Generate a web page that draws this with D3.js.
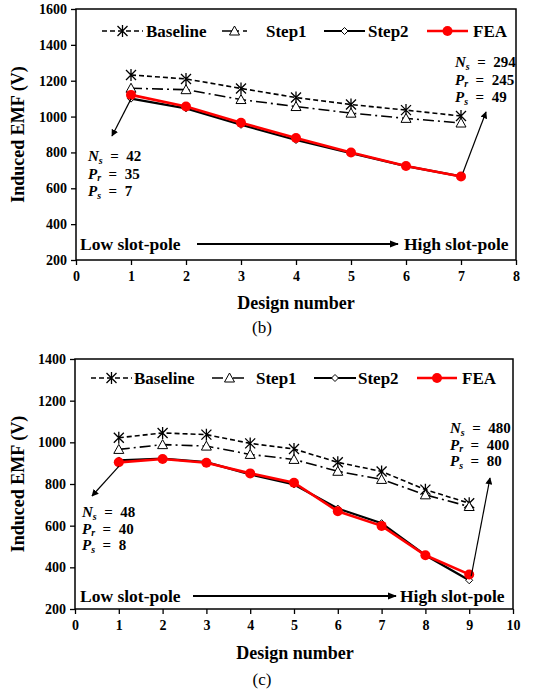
<!DOCTYPE html>
<html><head><meta charset="utf-8">
<script src="https://cdn.jsdelivr.net/npm/d3@7"></script>
<style>
body{margin:0;background:#fff;}
svg text{font-family:"Liberation Serif","Times New Roman",serif;}
</style></head>
<body><svg id="chart" width="538" height="695"></svg>
<script>
// ---- Data ----
const seriesNames = ["Baseline", "Step1", "Step2", "FEA"];

const designsB = [1, 2, 3, 4, 5, 6, 7];
const baselineB = [1232, 1210, 1157, 1106, 1067, 1036, 1003];
const step1B = [1158, 1150, 1095, 1056, 1019, 990, 964];
const step2B = [1100, 1046, 954, 869, 796, 724, 666];
const feaB = [1121, 1056, 966, 880, 800, 724, 666];
const yTicksB = [200, 400, 600, 800, 1000, 1200, 1400, 1600];
const xTicksB = [0, 1, 2, 3, 4, 5, 6, 7, 8];

const designsC = [1, 2, 3, 4, 5, 6, 7, 8, 9];
const baselineC = [1022, 1045, 1037, 995, 968, 904, 860, 773, 708];
const step1C = [966, 989, 982, 942, 918, 861, 822, 748, 692];
const step2C = [913, 922, 905, 846, 798, 682, 612, 458, 338];
const feaC = [904, 920, 902, 851, 806, 669, 599, 458, 366];
const yTicksC = [200, 400, 600, 800, 1000, 1200, 1400];
const xTicksC = [0, 1, 2, 3, 4, 5, 6, 7, 8, 9, 10];

const annoB = {left: ["42", "35", "7"], right: ["294", "245", "49"]};
const annoC = {left: ["48", "40", "8"], right: ["480", "400", "80"]};

// ---- Drawing ----
const svg = d3.select("#chart");
const defs = svg.append("defs");
defs.append("marker").attr("id", "ah").attr("viewBox", "0 0 10 10").attr("refX", 9).attr("refY", 5)
  .attr("markerWidth", 7).attr("markerHeight", 7).attr("orient", "auto-start-reverse")
  .attr("markerUnits", "userSpaceOnUse")
  .append("path").attr("d", "M0,0 L10,5 L0,10 z").attr("fill", "#000");
defs.append("marker").attr("id", "ah2").attr("viewBox", "0 0 10 10").attr("refX", 9).attr("refY", 5)
  .attr("markerWidth", 9).attr("markerHeight", 9).attr("orient", "auto")
  .attr("markerUnits", "userSpaceOnUse")
  .append("path").attr("d", "M0,1 L10,5 L0,9 z").attr("fill", "#000");

const styles = {
  Baseline: {color: "#000", width: 1.6, dash: "5,3", marker: "star"},
  Step1: {color: "#000", width: 1.6, dash: "11,4,2,4", marker: "tri"},
  Step2: {color: "#000", width: 2.2, dash: null, marker: "dia"},
  FEA: {color: "#ff0000", width: 2.6, dash: null, marker: "circ"}
};

function drawMarker(g, type, x, y) {
  if (type === "star") {
    const s = 5;
    g.append("path").attr("d", `M${x-s},${y-s}L${x+s},${y+s}M${x-s},${y+s}L${x+s},${y-s}M${x},${y-s-1}L${x},${y+s+1}`)
      .attr("stroke", "#000").attr("stroke-width", 1.3).attr("fill", "none");
  } else if (type === "tri") {
    const s = 5;
    g.append("path").attr("d", `M${x},${y-s}L${x+s},${y+s*0.8}L${x-s},${y+s*0.8}Z`)
      .attr("stroke", "#000").attr("stroke-width", 1).attr("fill", "#fff");
  } else if (type === "dia") {
    const s = 3.5;
    g.append("path").attr("d", `M${x},${y-s}L${x+s},${y}L${x},${y+s}L${x-s},${y}Z`)
      .attr("stroke", "#000").attr("stroke-width", 1).attr("fill", "#fff");
  } else {
    g.append("circle").attr("cx", x).attr("cy", y).attr("r", 5).attr("fill", "#ff0000");
  }
}

function mathLine(g, x, y, letter, sub, val) {
  const t = g.append("text").attr("x", x).attr("y", y).attr("font-size", 15).attr("font-weight", "bold");
  t.append("tspan").attr("font-style", "italic").text(letter);
  t.append("tspan").attr("font-style", "italic").attr("font-size", 10).attr("dy", 2.5).text(sub);
  t.append("tspan").attr("dy", -2.5).text("\u2002=\u2002" + val);
}

function panel(cfg) {
  const g = svg.append("g");
  const x = d3.scaleLinear().domain(cfg.xDomain).range([cfg.left, cfg.right]);
  const y = d3.scaleLinear().domain(cfg.yDomain).range([cfg.bottom, cfg.top]);

  // axes
  const ya = g.append("g").attr("transform", `translate(${cfg.left},0)`)
    .call(d3.axisLeft(y).tickValues(cfg.yTicks).tickFormat(d3.format("d")).tickSize(5).tickSizeOuter(0).tickPadding(4));
  const xa = g.append("g").attr("transform", `translate(0,${cfg.bottom})`)
    .call(d3.axisBottom(x).tickValues(cfg.xTicks).tickFormat(d3.format("d")).tickSize(5).tickSizeOuter(0).tickPadding(6));
  [ya, xa].forEach(a => {
    a.selectAll("text").attr("font-size", 14).attr("font-weight", "bold").attr("fill", "#000")
      .attr("font-family", "Liberation Serif, serif");
    a.selectAll("line").attr("stroke", "#000").attr("stroke-width", 1.3);
    a.select(".domain").remove();
  });
  g.append("rect").attr("x", cfg.left).attr("y", cfg.top).attr("width", cfg.right - cfg.left)
    .attr("height", cfg.bottom - cfg.top).attr("fill", "none").attr("stroke", "#000").attr("stroke-width", 1.5);

  // series
  const line = d3.line().x(d => x(d[0])).y(d => y(d[1]));
  cfg.series.forEach((vals, i) => {
    const st = styles[seriesNames[i]];
    const pts = cfg.designs.map((d, j) => [d, vals[j]]);
    g.append("path").datum(pts).attr("d", line).attr("fill", "none").attr("stroke", st.color)
      .attr("stroke-width", st.width).attr("stroke-dasharray", st.dash);
    pts.forEach(p => drawMarker(g, st.marker, x(p[0]), y(p[1])));
  });

  // legend
  seriesNames.forEach((n, i) => {
    const st = styles[n];
    const lx = cfg.legendX[i];
    g.append("line").attr("x1", lx[0]).attr("x2", lx[1]).attr("y1", cfg.legendY).attr("y2", cfg.legendY)
      .attr("stroke", st.color).attr("stroke-width", st.width).attr("stroke-dasharray", st.dash);
    drawMarker(g, st.marker, (lx[0] + lx[1]) / 2, cfg.legendY);
    g.append("text").attr("x", lx[2]).attr("y", cfg.legendY + 5.5).attr("font-size", 17)
      .attr("font-weight", "bold").text(n);
  });

  // annotations
  const n = cfg.designs.length;
  const fx = x(cfg.designs[0]), fy = y(cfg.series[3][0]);
  g.append("line").attr("x1", fx).attr("y1", fy + 4).attr("x2", cfg.leftArrowEnd[0]).attr("y2", cfg.leftArrowEnd[1])
    .attr("stroke", "#000").attr("stroke-width", 1.2).attr("marker-end", "url(#ah)");
  const lx = x(cfg.designs[n - 1]), ly = y(cfg.series[2][n - 1]);
  g.append("line").attr("x1", lx + 2).attr("y1", ly - 4).attr("x2", cfg.rightArrowEnd[0]).attr("y2", cfg.rightArrowEnd[1])
    .attr("stroke", "#000").attr("stroke-width", 1.2).attr("marker-end", "url(#ah)");

  const labels = [["N", "s"], ["P", "r"], ["P", "s"]];
  labels.forEach((l, i) => {
    mathLine(g, cfg.annoLeft[0], cfg.annoLeft[1] + i * cfg.annoGap, l[0], l[1], cfg.anno.left[i]);
    mathLine(g, cfg.annoRight[0], cfg.annoRight[1] + i * cfg.annoGap, l[0], l[1], cfg.anno.right[i]);
  });

  // slot-pole arrow
  g.append("text").attr("x", cfg.slotY[0]).attr("y", cfg.slotY[1] + 6).attr("font-size", 17.5)
    .attr("font-weight", "bold").text("Low slot-pole");
  g.append("line").attr("x1", cfg.slotY[2]).attr("x2", cfg.slotY[3]).attr("y1", cfg.slotY[1]).attr("y2", cfg.slotY[1])
    .attr("stroke", "#000").attr("stroke-width", 2).attr("marker-end", "url(#ah2)");
  g.append("text").attr("x", cfg.slotY[4]).attr("y", cfg.slotY[1] + 6).attr("font-size", 17.5)
    .attr("font-weight", "bold").text("High slot-pole");

  // titles
  g.append("text").attr("x", cfg.xTitle[0]).attr("y", cfg.xTitle[1]).attr("text-anchor", "middle")
    .attr("font-size", 18).attr("font-weight", "bold").text("Design number");
  g.append("text").attr("transform", `translate(${cfg.yTitleX},${(cfg.top + cfg.bottom) / 2}) rotate(-90)`)
    .attr("text-anchor", "middle").attr("font-size", 18).attr("font-weight", "bold").text("Induced EMF (V)");
  g.append("text").attr("x", cfg.caption[0]).attr("y", cfg.caption[1]).attr("text-anchor", "middle")
    .attr("font-size", 17).text(cfg.caption[2]);
}

panel({
  designs: designsB, series: [baselineB, step1B, step2B, feaB],
  xDomain: [0, 8], yDomain: [200, 1600], xTicks: xTicksB, yTicks: yTicksB,
  left: 76, right: 516, top: 9, bottom: 260,
  legendY: 31, legendX: [[102, 143, 146], [222, 247, 266], [324, 365, 368], [427, 468, 473]],
  leftArrowEnd: [112, 136], rightArrowEnd: [486, 112],
  anno: annoB, annoLeft: [88, 161], annoRight: [455, 67], annoGap: 17.5,
  slotY: [80, 244, 197, 398, 404],
  xTitle: [296, 309], yTitleX: 24, caption: [262, 333, "(b)"]
});

panel({
  designs: designsC, series: [baselineC, step1C, step2C, feaC],
  xDomain: [0, 10], yDomain: [200, 1400], xTicks: xTicksC, yTicks: yTicksC,
  left: 75, right: 513, top: 359, bottom: 609,
  legendY: 378, legendX: [[91, 132, 134], [212, 247, 256], [314, 356, 358], [417, 457, 462]],
  leftArrowEnd: [92, 496], rightArrowEnd: [490, 478],
  anno: annoC, annoLeft: [82, 517], annoRight: [450, 433], annoGap: 16.5,
  slotY: [80, 596, 193, 396, 400],
  xTitle: [295, 659], yTitleX: 24, caption: [262, 685, "(c)"]
});
</script>
</body></html>
